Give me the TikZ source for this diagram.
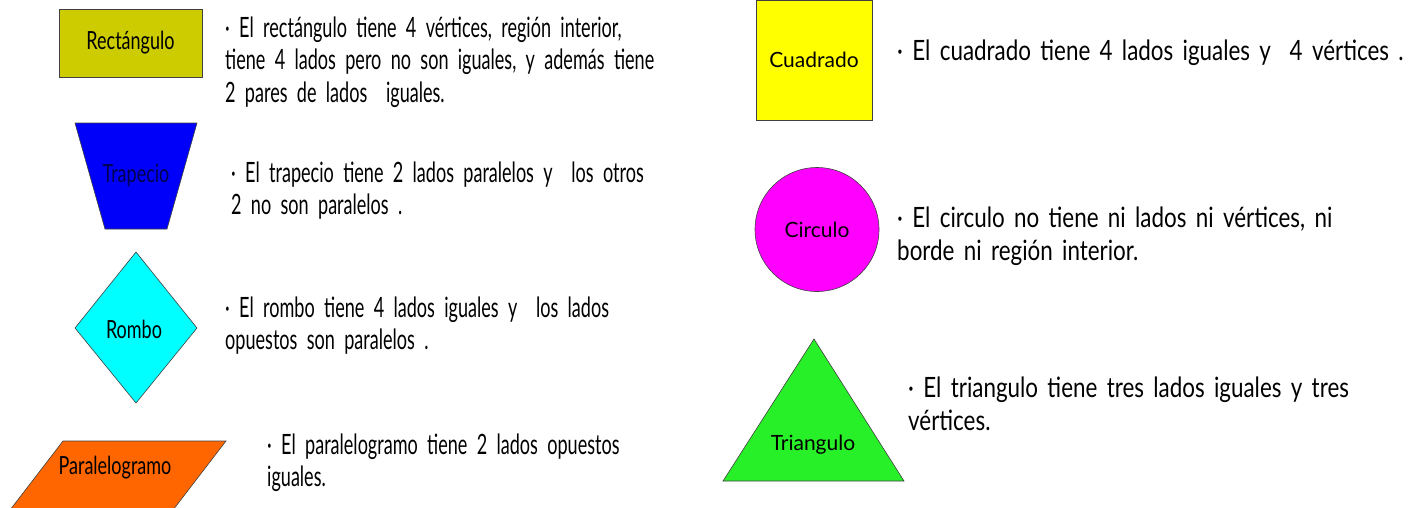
\documentclass[tikz,border=0pt]{standalone}
\usepackage{fontspec}
\setmainfont{Lato}
\newfontfamily\anchafont[FakeStretch=0.8, WordSpace=0.7]{Lato}
\newfontfamily\estrechafont[FakeStretch=0.645, WordSpace=0.7]{Lato}
\newfontfamily\etiqfont[FakeStretch=0.72]{Lato}
\usetikzlibrary{shapes.geometric}

\definecolor{olivo}{RGB}{204,204,0}
\definecolor{azul}{RGB}{0,0,250}
\definecolor{celeste}{RGB}{0,255,255}
\definecolor{naranja}{RGB}{255,102,0}
\definecolor{amarillo}{RGB}{255,255,0}
\definecolor{magenta2}{RGB}{255,0,255}
\definecolor{verde}{RGB}{40,240,40}

\begin{document}
\begin{tikzpicture}[x=1pt, y=-1pt]

    % Define styles
    \tikzstyle{figura} = [draw=black!75, line width=0.6pt]
    \tikzstyle{etiq} = [inner sep=0pt, font=\etiqfont\fontsize{25}{28}\selectfont]
    \tikzstyle{etiqder} = [inner sep=0pt, font=\fontsize{21}{24}\selectfont]
    \tikzstyle{texto} = [inner sep=0pt, anchor=base west, text width=560pt, align=left,
        font=\estrechafont\fontsize{28}{32.5}\selectfont]
    \tikzstyle{textoder} = [inner sep=0pt, anchor=base west, text width=560pt, align=left,
        font=\anchafont\fontsize{28}{33}\selectfont]

    \useasboundingbox (0,0) rectangle (1422,507);
    \clip (0,0) rectangle (1422,507);

    % Left column: shapes
    \node [figura, fill=olivo, minimum width=143pt, minimum height=68pt, etiq] (rect)
        at (130.5,43) {Rectángulo};
    \filldraw [figura, fill=azul] (75,123) -- (197,123) -- (167,229) -- (105,229) -- cycle;
    \node [etiq, text=blue!30!black] (trap) at (136,176) {Trapecio};
    \filldraw [figura, fill=celeste] (136,252) -- (197,328) -- (136,403) -- (75,328) -- cycle;
    \node [etiq] (rombo) at (134,329) {Rombo};
    \filldraw [figura, fill=naranja] (63,441) -- (226,441) -- (173,510) -- (10,510) -- cycle;
    \node [etiq] (para) at (115,468) {Paralelogramo};

    % Left column: texts
    \node [texto] (recttxt) at (225,37)
        {· El rectángulo tiene 4 vértices, región interior,\\
        tiene 4 lados pero no son iguales, y además tiene\\
        2 pares de lados~ iguales.};
    \node [texto] (traptxt) at (231,182)
        {· El trapecio tiene 2 lados paralelos y~ los otros\\
        2 no son paralelos .};
    \node [texto] (rombotxt) at (225,317)
        {· El rombo tiene 4 lados iguales y~ los lados\\
        opuestos son paralelos .};
    \node [texto] (paratxt) at (267,454)
        {· El paralelogramo tiene 2 lados opuestos\\
        iguales.};

    % Right column: shapes
    \node [figura, fill=amarillo, minimum width=116pt, minimum height=120pt, etiqder] (cuad)
        at (814,60) {Cuadrado};
    \node [figura, fill=magenta2, circle, minimum size=124pt, etiqder] (circ)
        at (817,229.5) {Circulo};
    \filldraw [figura, fill=verde] (814,339) -- (904,481) -- (723,481) -- cycle;
    \node [etiqder] (tri) at (813,445) {Triangulo};

    % Right column: texts
    \node [textoder] (cuadtxt) at (897,60)
        {· El cuadrado tiene 4 lados iguales y~ 4 vértices .};
    \node [textoder] (circtxt) at (897,227)
        {· El circulo no tiene ni lados ni vértices, ni\\
        borde ni región interior.};
    \node [textoder] (tritxt) at (908,397)
        {· El triangulo tiene tres lados iguales y tres\\
        vértices.};

\end{tikzpicture}
\end{document}
